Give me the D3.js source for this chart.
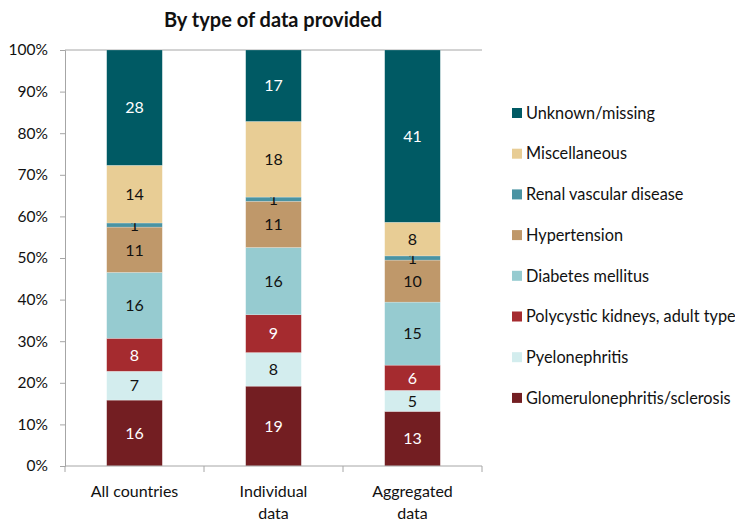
<!DOCTYPE html>
<html>
<head>
<meta charset="utf-8">
<script src="https://cdn.jsdelivr.net/npm/d3@7"></script>
<style>
  body { margin: 0; background: #fff; }
  svg text { font-family: Lato, "Noto Sans", sans-serif; fill: #111; }
</style>
</head>
<body>
<div id="chart"></div>
<script>
"use strict";
const groups = ["All countries", "Individual data", "Aggregated data"];
const causes = ["Glomerulonephritis/sclerosis", "Pyelonephritis", "Polycystic kidneys, adult type",
  "Diabetes mellitus", "Hypertension", "Renal vascular disease", "Miscellaneous", "Unknown/missing"];
const glomerulo = [16, 19, 13];
const pyelo = [7, 8, 5];
const polycystic = [8, 9, 6];
const diabetes = [16, 16, 15];
const hypertension = [11, 11, 10];
const renalVascular = [1, 1, 1];
const misc = [14, 18, 8];
const unknown = [28, 17, 41];
const yTicks = [0, 0.1, 0.2, 0.3, 0.4, 0.5, 0.6, 0.7, 0.8, 0.9, 1];

const seriesValues = [glomerulo, pyelo, polycystic, diabetes, hypertension, renalVascular, misc, unknown];
const colors = ["#731E22", "#D3EDEE", "#A52B2F", "#96CBD0", "#BF986A", "#4A93A2", "#E8CD95", "#005A64"];
const darkText = [true, false, true, false, false, false, false, true];

const rows = groups.map((g, i) => {
  const r = { group: g };
  causes.forEach((c, j) => r[c] = seriesValues[j][i]);
  return r;
});

const width = 735, height = 524;
const margin = { top: 50, right: 253, bottom: 58, left: 65 };

const svg = d3.select("#chart").append("svg")
  .attr("width", width)
  .attr("height", height);

const x = d3.scaleBand()
  .domain(groups)
  .range([margin.left, width - margin.right])
  .paddingInner(0.6)
  .paddingOuter(0.3);

const y = d3.scaleLinear()
  .domain([0, 1])
  .range([height - margin.bottom, margin.top]);

const stack = d3.stack().keys(causes).offset(d3.stackOffsetExpand);
const series = stack(rows);

// top frame line
svg.append("line")
  .attr("x1", margin.left).attr("x2", width - margin.right)
  .attr("y1", y(1)).attr("y2", y(1))
  .attr("stroke", "#a6a6a6");

const layer = svg.selectAll("g.layer")
  .data(series)
  .enter()
  .append("g")
  .attr("class", "layer")
  .attr("fill", (d, i) => colors[i]);

layer.selectAll("rect")
  .data(d => d)
  .enter()
  .append("rect")
  .attr("x", d => x(d.data.group))
  .attr("y", d => y(d[1]))
  .attr("width", x.bandwidth())
  .attr("height", d => y(d[0]) - y(d[1]))
  .attr("stroke", "#ffffff")
  .attr("stroke-opacity", 0.35)
  .attr("stroke-width", 0.6);

layer.each(function (s, i) {
  d3.select(this).selectAll("text")
    .data(s)
    .enter()
    .append("text")
    .attr("x", d => x(d.data.group) + x.bandwidth() / 2)
    .attr("y", d => (y(d[0]) + y(d[1])) / 2)
    .attr("dy", "0.36em")
    .attr("text-anchor", "middle")
    .style("font-size", "16px")
    .style("fill", darkText[i] ? "#fff" : "#111")
    .text(d => d.data[s.key]);
});

// y axis
const yAxis = svg.append("g")
  .attr("transform", `translate(${margin.left},0)`)
  .call(d3.axisLeft(y).tickValues(yTicks).tickFormat(d3.format(".0%")).tickSize(5).tickPadding(12));
yAxis.selectAll("path, line").attr("stroke", "#a6a6a6");
yAxis.selectAll("text").style("font-size", "15.5px").style("font-family", "Lato, 'Noto Sans', sans-serif").attr("fill", "#111");

// x axis
const xAxis = svg.append("g")
  .attr("transform", `translate(0,${y(0)})`);
xAxis.append("line")
  .attr("x1", margin.left).attr("x2", width - margin.right)
  .attr("stroke", "#a6a6a6");
const bounds = d3.range(groups.length + 1).map(i => margin.left + i * (width - margin.left - margin.right) / groups.length);
xAxis.selectAll("line.tick")
  .data(bounds)
  .enter()
  .append("line")
  .attr("class", "tick")
  .attr("x1", d => d).attr("x2", d => d)
  .attr("y1", 0).attr("y2", 6)
  .attr("stroke", "#a6a6a6");

const catLabel = xAxis.selectAll("text.cat")
  .data(groups)
  .enter()
  .append("text")
  .attr("class", "cat")
  .attr("text-anchor", "middle")
  .style("font-size", "16px")
  .attr("transform", d => `translate(${x(d) + x.bandwidth() / 2},0)`);
catLabel.selectAll("tspan")
  .data(d => d === "All countries" ? [d] : d.split(" "))
  .enter()
  .append("tspan")
  .attr("x", 0)
  .attr("y", (d, i) => 31 + i * 22)
  .text(d => d);

// title
svg.append("text")
  .attr("x", 273)
  .attr("y", 27)
  .attr("text-anchor", "middle")
  .style("font-size", "20px")
  .style("font-weight", "bold")
  .text("By type of data provided");

// legend, top to bottom in reverse stack order
const legendItems = causes.map((c, i) => ({ name: c, color: colors[i] })).reverse();
const legend = svg.append("g")
  .attr("transform", "translate(512,113)")
  .selectAll("g")
  .data(legendItems)
  .enter()
  .append("g")
  .attr("transform", (d, i) => `translate(0,${i * 40.7})`);
legend.append("rect")
  .attr("x", 0).attr("y", -5)
  .attr("width", 10).attr("height", 10)
  .attr("fill", d => d.color);
legend.append("text")
  .attr("x", 14)
  .attr("y", 0)
  .attr("dy", "0.35em")
  .style("font-size", "16.3px")
  .text(d => d.name);
</script>
</body>
</html>
